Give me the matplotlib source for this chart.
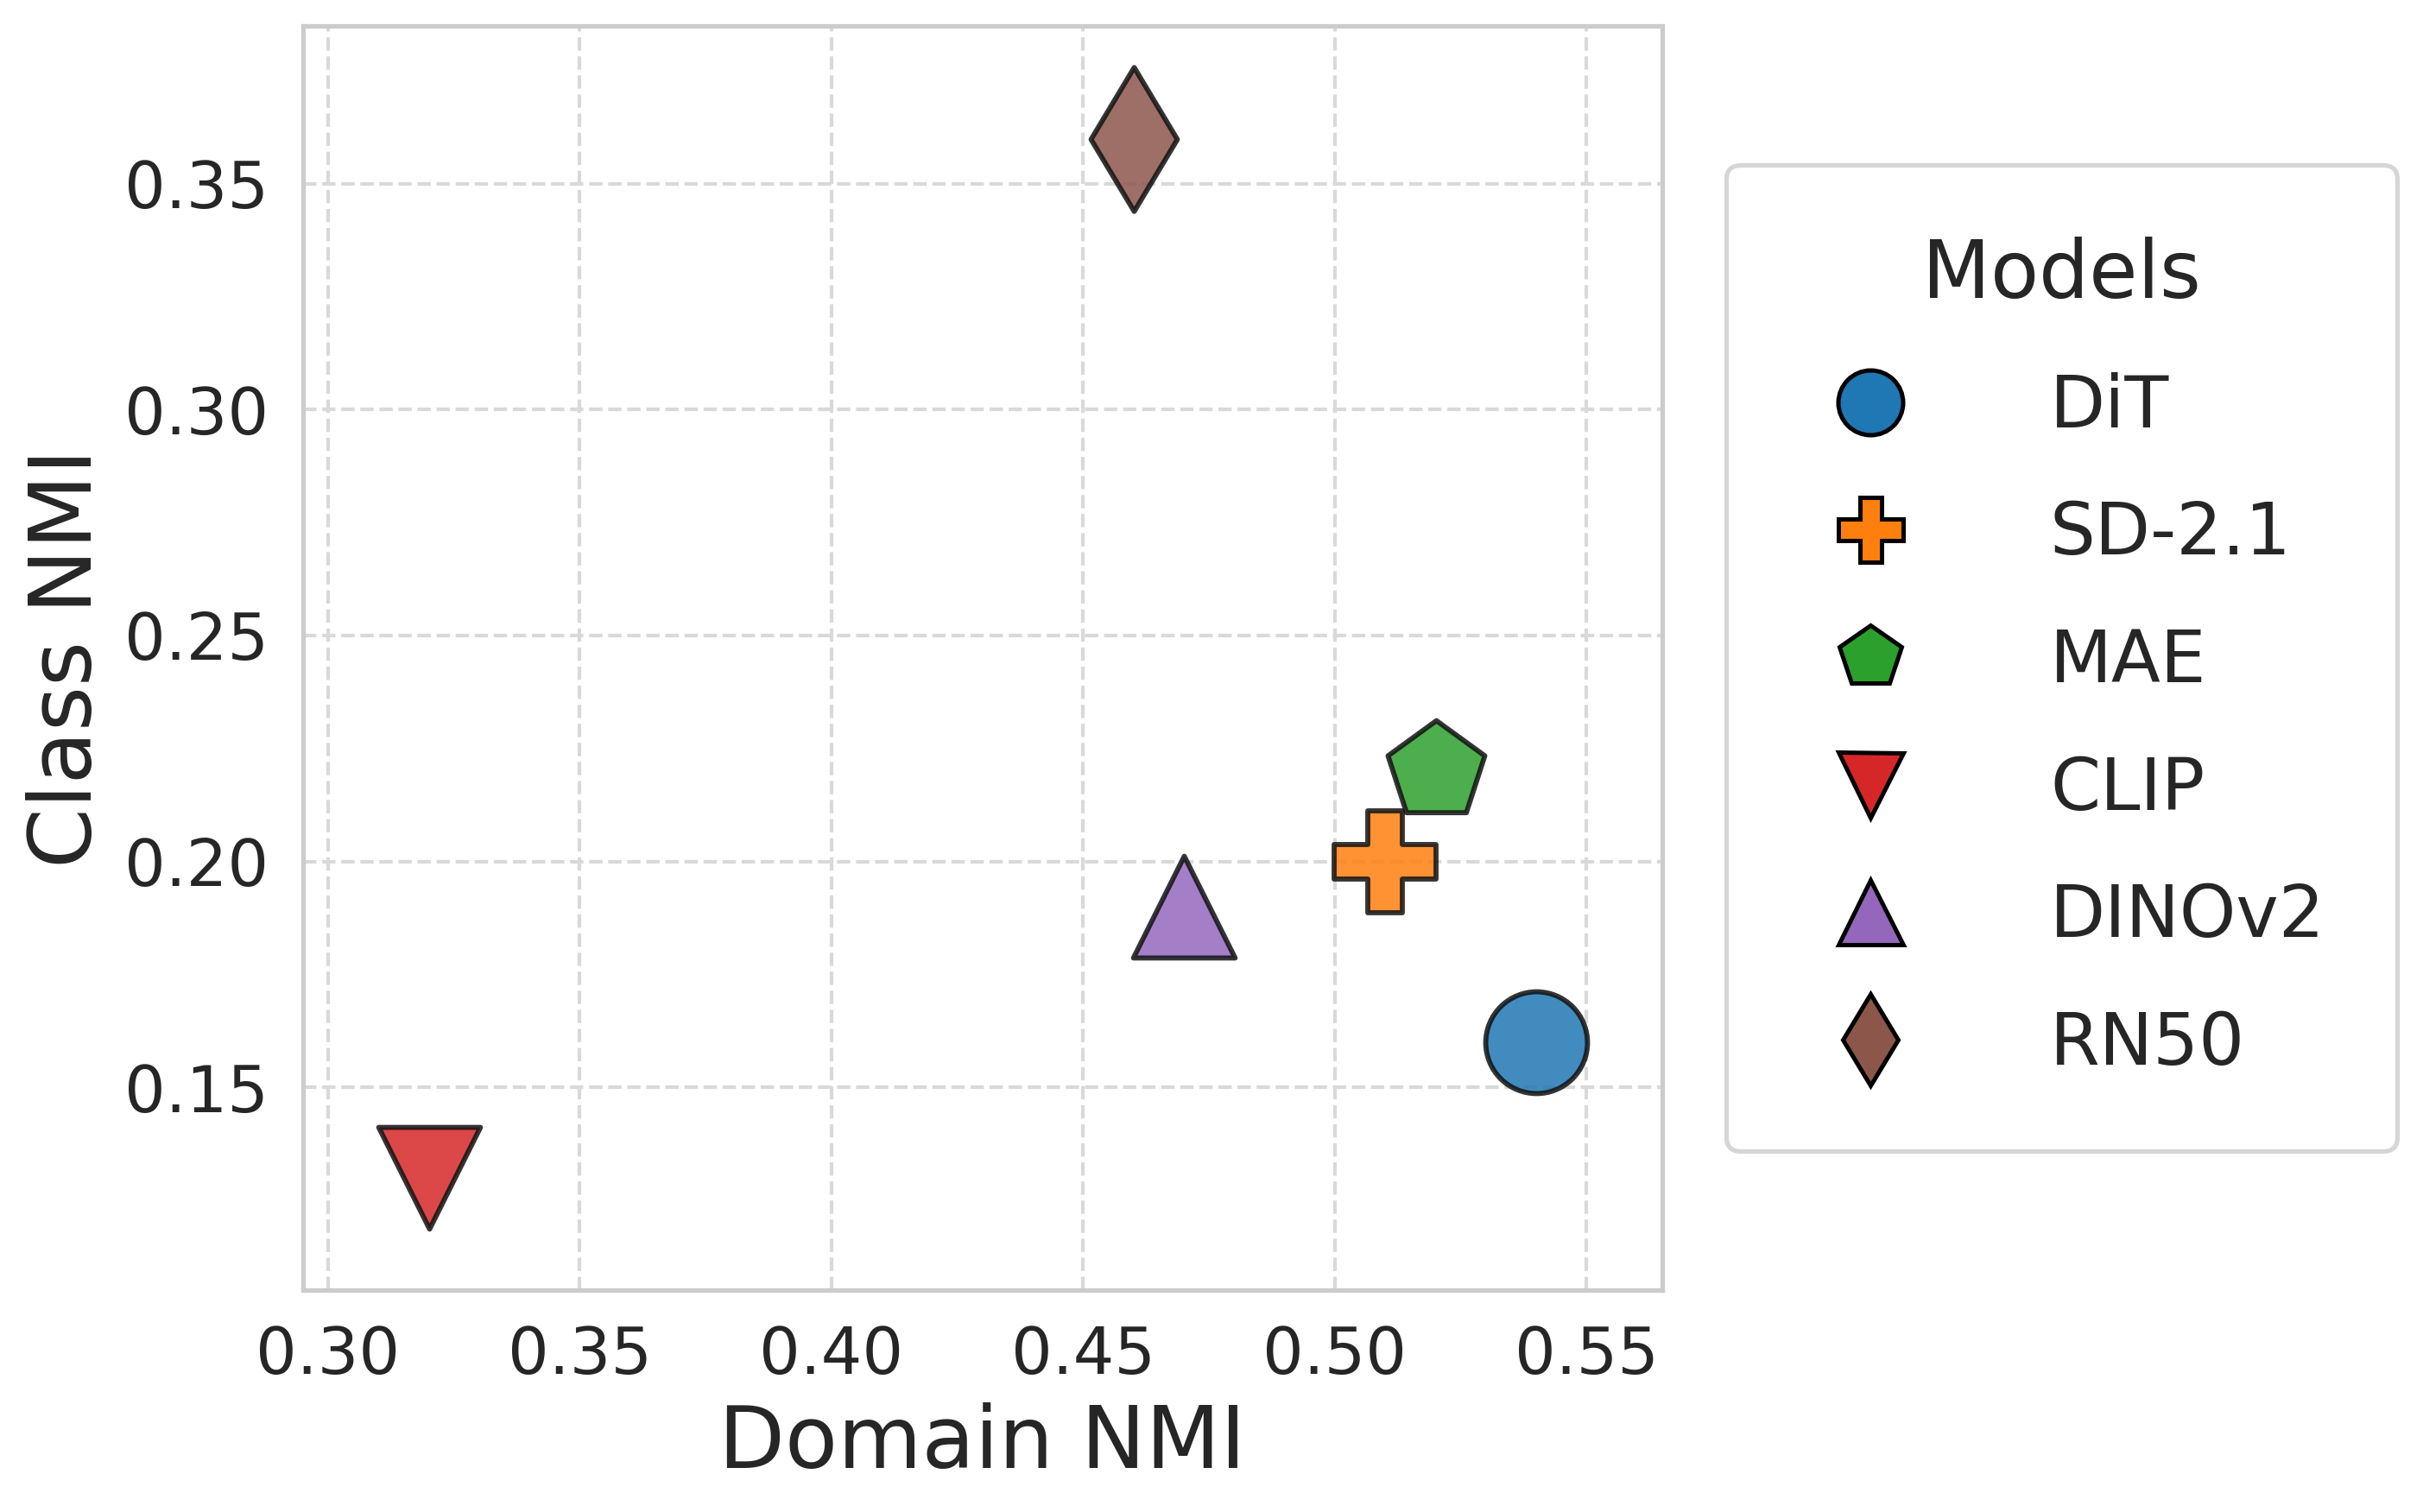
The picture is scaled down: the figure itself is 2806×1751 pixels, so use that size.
import matplotlib
matplotlib.use("Agg")
import matplotlib.pyplot as plt
import seaborn as sns
from matplotlib.lines import Line2D

models = ["DiT", "SD-2.1", "MAE", "CLIP", "DINOv2", "RN50"]
domain_nmi = [0.54, 0.51, 0.52, 0.32, 0.47, 0.46]
class_nmi = [0.16, 0.20, 0.22, 0.13, 0.19, 0.36]
markers = ["o", "P", "p", "v", "^", "d"]
colors = ["#1f77b4", "#ff7f0e", "#2ca02c", "#d62728", "#9467bd", "#8c564b"]
xticks = [0.30, 0.35, 0.40, 0.45, 0.50, 0.55]
yticks = [0.15, 0.20, 0.25, 0.30, 0.35]

sns.set_theme(style="whitegrid")
plt.rcParams["font.family"] = ["DejaVu Sans"]

fig = plt.figure(figsize=(2806 / 300, 1751 / 300), dpi=300)
ax = fig.add_axes([0.125, 0.1465, 0.561, 0.8365])

for m, x, y, mk, c in zip(models, domain_nmi, class_nmi, markers, colors):
    ax.scatter(x, y, s=800, marker=mk, color=c, alpha=0.85,
               edgecolors="#111111", linewidths=1.4, zorder=3)

ax.set_xlim(min(domain_nmi) - 0.025, max(domain_nmi) + 0.025)
ax.set_ylim(min(class_nmi) - 0.025, max(class_nmi) + 0.025)
ax.set_xticks(xticks)
ax.set_yticks(yticks)
ax.set_xticklabels([f"{t:.2f}" for t in xticks])
ax.set_yticklabels([f"{t:.2f}" for t in yticks])
ax.tick_params(labelsize=18, colors="#262626")
ax.grid(True, linestyle="--", linewidth=1.0, color="#d9d9d9")
for sp in ax.spines.values():
    sp.set_color("#cccccc")
    sp.set_linewidth(1.25)
ax.set_xlabel("Domain NMI", fontsize=24, color="#262626")
ax.set_ylabel("Class NMI", fontsize=24, color="#262626")

handles = [Line2D([0], [0], marker=mk, color="none", markerfacecolor=c,
                  markeredgecolor="black", markeredgewidth=1.2, markersize=18,
                  linestyle="none")
           for mk, c in zip(markers, colors)]
leg = ax.legend(handles, models, title="Models", loc="center left",
                bbox_to_anchor=(1.047, 0.5), borderaxespad=0,
                fontsize=20, title_fontsize=22, borderpad=1.0,
                handlelength=2.0, handletextpad=1.5, labelspacing=0.8,
                frameon=True, fancybox=True)
leg.get_frame().set_edgecolor("#cccccc")
leg.get_frame().set_linewidth(1.25)
for t in leg.get_texts():
    t.set_color("#262626")
leg.get_title().set_color("#262626")

fig.savefig("out.png", dpi=300)
